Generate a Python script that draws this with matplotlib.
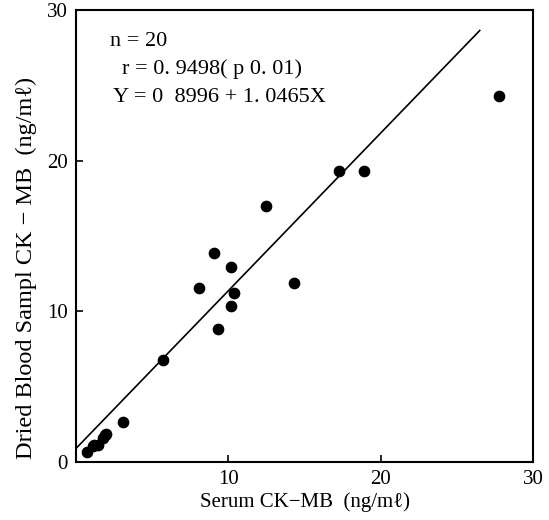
import matplotlib
matplotlib.use('Agg')
import matplotlib.pyplot as plt
import numpy as np

###########                Data                  ###########
#----------------------------------------------------------#
''' Serum CK-MB vs dried blood sample CK-MB (ng/ml) '''
serum = [0.72, 1.10, 1.20, 1.43, 1.75, 1.90, 1.97, 3.07, 5.72, 8.10,
         9.09, 9.31, 10.16, 10.20, 10.34, 12.44, 14.28, 17.28, 18.90, 27.75]
dried = [0.64, 1.06, 1.10, 1.13, 1.59, 1.80, 1.86, 2.65, 6.77, 11.57,
         13.85, 8.81, 12.94, 10.37, 11.23, 16.97, 11.88, 19.31, 19.33, 24.27]

# regression  Y = a + bX
a = 0.8996
b = 1.0465
fit_x = [0, 26.5]

ticks = [0, 10, 20, 30]
stats_lines = ['n = 20', 'r = 0. 9498( p 0. 01)', 'Y = 0  8996 + 1. 0465X']

###########               Settings               ###########
#----------------------------------------------------------#
plt.rcParams['font.family'] = ['Liberation Serif', 'DejaVu Serif']

fig = plt.figure(figsize=(5.49, 5.2), dpi=100)
ax = fig.add_axes([0.1384, 0.1115, 0.971 - 0.1384, 0.981 - 0.1115])

###########                 Plot                 ###########
#----------------------------------------------------------#
ax.scatter(serum, dried, s=55, color='black', zorder=3)
ax.plot(fit_x, [a + b * x for x in fit_x], color='black', linewidth=1.2)

ax.set_xlim(0, 30)
ax.set_ylim(0, 30)
ax.set_xticks(ticks)
ax.set_yticks(ticks)
# the 0 in the corner is shared by both axes -> only the y one is drawn
ax.set_xticklabels(['', '10', '20', '30'])
ax.tick_params(direction='in', length=5, labelsize=15, width=1.2, pad=6)
for s in ax.spines.values():
    s.set_linewidth(1.5)

ax.text(2.2, 27.9, stats_lines[0], fontsize=16, va='center')
ax.text(3.0, 26.1, stats_lines[1], fontsize=16, va='center')
ax.text(2.4, 24.2, stats_lines[2], fontsize=16, va='center')

ax.set_xlabel('Serum CK\u2212MB  (ng/m\u2113)', fontsize=15, labelpad=2)
ax.set_ylabel('Dried Blood Sampl CK \u2212 MB  (ng/m\u2113)', fontsize=17.5)
ax.yaxis.set_label_coords(-0.085, 0.43)

fig.savefig('out.png', dpi=100)
